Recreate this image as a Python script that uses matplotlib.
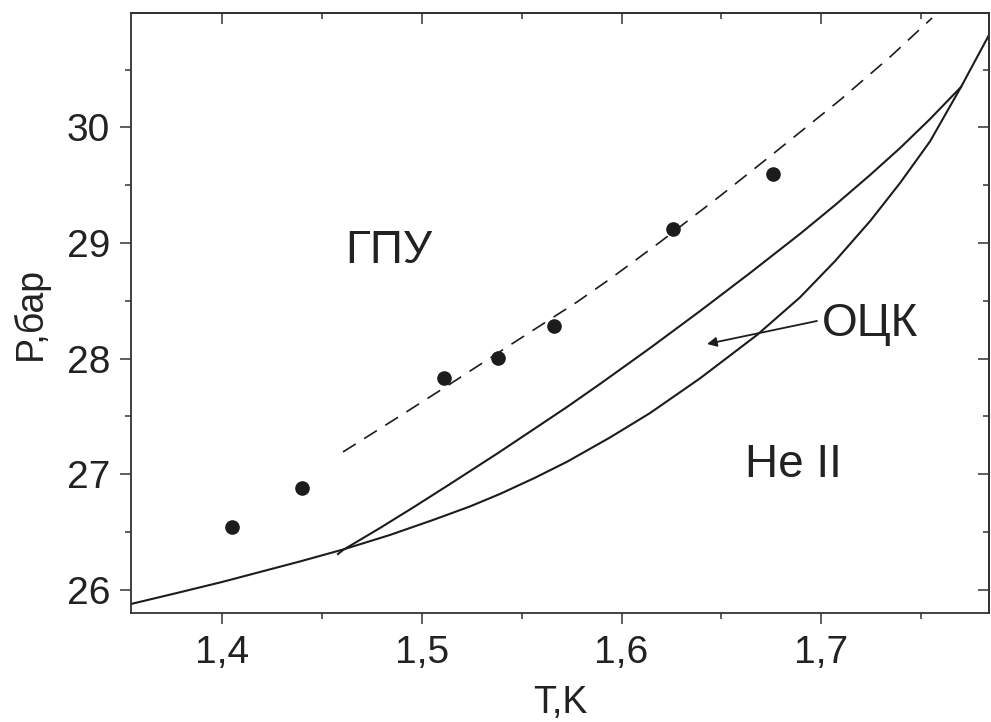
import matplotlib
matplotlib.use("Agg")
import matplotlib.pyplot as plt
from matplotlib.ticker import MultipleLocator, FixedLocator, FixedFormatter

plt.rcParams['font.family'] = ['Liberation Sans', 'DejaVu Sans']

# Melting curve (hcp / He II boundary), T in K, P in bar
melt_T = [1.3545, 1.3765, 1.4000, 1.4191, 1.4391, 1.4606, 1.4841, 1.5057,
          1.5242, 1.5392, 1.5567, 1.5727, 1.5942, 1.6143, 1.6393, 1.6678,
          1.6893, 1.7069, 1.7244, 1.7394, 1.7544, 1.7699, 1.7839]
melt_P = [25.878, 25.969, 26.068, 26.155, 26.246, 26.349, 26.475, 26.605,
          26.722, 26.830, 26.970, 27.108, 27.318, 27.530, 27.830, 28.205,
          28.530, 28.845, 29.190, 29.520, 29.880, 30.350, 30.800]

# Upper boundary of the bcc region
bcc_T = [1.4581, 1.4606, 1.4791, 1.4961, 1.5142, 1.5382, 1.5592, 1.5727,
         1.5892, 1.6143, 1.6393, 1.6643, 1.6893, 1.7069, 1.7244, 1.7394,
         1.7544, 1.7699]
bcc_P = [26.310, 26.345, 26.535, 26.717, 26.916, 27.184, 27.426, 27.582,
         27.781, 28.092, 28.412, 28.741, 29.079, 29.329, 29.589, 29.822,
         30.073, 30.350]

# Dashed guide line
guide_T = [1.4606, 1.4891, 1.5127, 1.5427, 1.5777, 1.5942, 1.6193, 1.6493,
           1.6758, 1.7094, 1.7344, 1.7554]
guide_P = [27.193, 27.504, 27.764, 28.101, 28.490, 28.689, 29.009, 29.407,
           29.771, 30.238, 30.610, 30.947]

# Measured points
meas_T = [1.405, 1.440, 1.511, 1.538, 1.566, 1.626, 1.676]
meas_P = [26.54, 26.88, 27.83, 28.01, 28.28, 29.12, 29.60]

x_ticks = [1.4, 1.5, 1.6, 1.7]
x_labels = ['1,4', '1,5', '1,6', '1,7']
y_ticks = [26, 27, 28, 29, 30]
y_labels = ['26', '27', '28', '29', '30']

ink = '#1c1c1c'
frame = '#333333'
fig = plt.figure(figsize=(9.91, 7.22), dpi=100)
ax = fig.add_axes([131 / 991, 1 - 613 / 722, 858 / 991, 600 / 722])

ax.plot(melt_T, melt_P, color=ink, lw=1.5, solid_joinstyle='round')
ax.plot(bcc_T, bcc_P, color=ink, lw=1.5, solid_joinstyle='round')
ax.plot(guide_T, guide_P, color=ink, lw=1.2, dashes=(9, 6))
ax.plot(meas_T, meas_P, 'o', color=ink, ms=9.5, mec=ink)

ax.set_xlim(1.3545, 1.7839)
ax.set_ylim(25.80, 30.99)

ax.xaxis.set_major_locator(FixedLocator(x_ticks))
ax.xaxis.set_major_formatter(FixedFormatter(x_labels))
ax.xaxis.set_minor_locator(MultipleLocator(0.05))
ax.yaxis.set_major_locator(FixedLocator(y_ticks))
ax.yaxis.set_major_formatter(FixedFormatter(y_labels))
ax.yaxis.set_minor_locator(MultipleLocator(0.5))

for s in ax.spines.values():
    s.set_linewidth(1.3)
    s.set_color(frame)

ax.tick_params(which='both', direction='out', colors=frame, width=1.1,
               labelsize=28, labelcolor='#222222')
ax.tick_params(which='major', length=8)
ax.tick_params(which='minor', length=4.3)
ax.tick_params(axis='x', pad=8)
ax.tick_params(axis='y', pad=7)

# Mirrored inward ticks on top and right
top = ax.secondary_xaxis('top')
top.xaxis.set_major_locator(FixedLocator(x_ticks))
top.xaxis.set_minor_locator(MultipleLocator(0.05))
top.tick_params(which='both', direction='in', labeltop=False, colors=frame, width=1.1)
top.tick_params(which='major', length=8)
top.tick_params(which='minor', length=4.3)
right = ax.secondary_yaxis('right')
right.yaxis.set_major_locator(FixedLocator(y_ticks))
right.yaxis.set_minor_locator(MultipleLocator(0.5))
right.tick_params(which='both', direction='in', labelright=False, colors=frame, width=1.1)
right.tick_params(which='major', length=8)
right.tick_params(which='minor', length=4.3)
for sec in (top, right):
    for s in sec.spines.values():
        s.set_linewidth(1.3)
        s.set_color(frame)

ax.set_xlabel('T,K', fontsize=27, color='#222222', labelpad=10)
ax.set_ylabel('P,бар', fontsize=27, color='#222222', labelpad=13)

ax.text(1.4616, 28.828, 'ГПУ', fontsize=33, color='#222222', ha='left', va='baseline')
ax.text(1.6618, 26.976, 'He II', fontsize=33, color='#222222', ha='left', va='baseline')
ax.text(1.7003, 28.196, 'ОЦК', fontsize=33, color='#222222', ha='left', va='baseline')
ax.annotate('', xy=(1.6428, 28.127), xytext=(1.6978, 28.326),
            arrowprops=dict(arrowstyle='-|>', color=ink, lw=1.3,
                            mutation_scale=14, shrinkA=0, shrinkB=0))

fig.savefig('out.png', dpi=100)
